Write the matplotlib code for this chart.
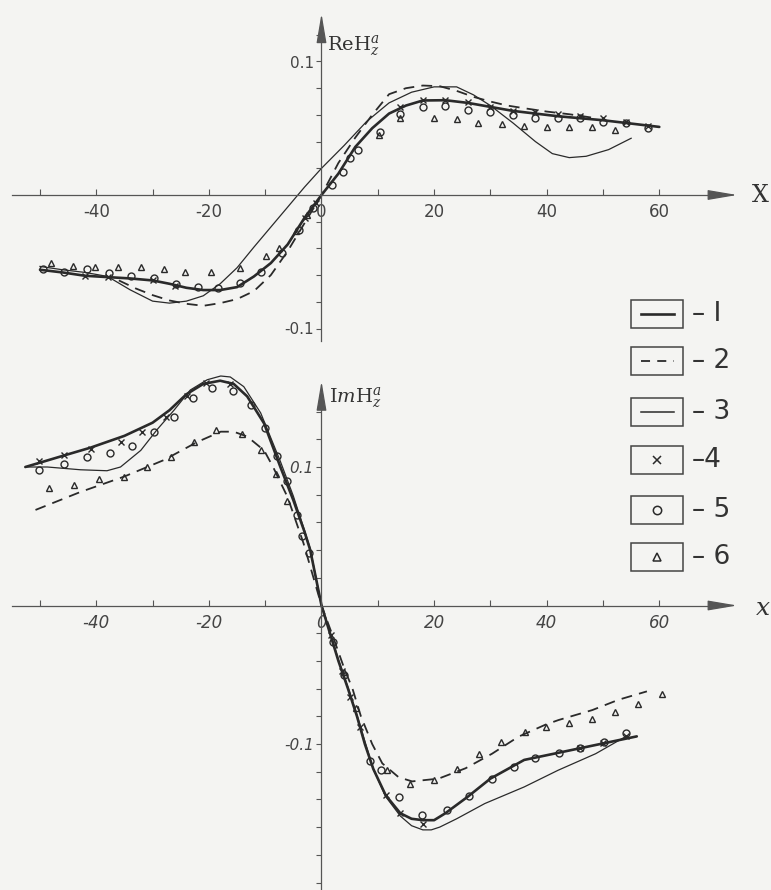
import matplotlib
matplotlib.use("Agg")
import matplotlib.pyplot as plt
from matplotlib.patches import Rectangle

plt.rcParams['font.family'] = ['Liberation Sans Narrow', 'DejaVu Sans']
plt.rcParams['mathtext.fontset'] = 'dejavuserif'

# ---------------- data: upper panel (Re H_z) ----------------
re1_x = [-50, -46, -42, -38, -34, -30, -27, -24, -21, -18, -15, -12, -9, -6, -3, 0,
         3, 6, 9, 12, 15, 18, 22, 26, 30, 34, 38, 42, 46, 50, 54, 60]
re1_y = [-0.056, -0.058, -0.0605, -0.0615, -0.0625, -0.064, -0.0665, -0.0695, -0.0712,
         -0.0712, -0.069, -0.061, -0.051, -0.037, -0.017, 0.0, 0.016, 0.036, 0.050,
         0.061, 0.067, 0.0708, 0.071, 0.069, 0.066, 0.063, 0.061, 0.059, 0.0575, 0.056,
         0.054, 0.051]

re2_x = [-36, -33, -30, -27, -24, -21, -18, -15, -12, -9, -6, -3, 0, 3, 6, 9, 12, 15,
         18, 21, 24, 27, 30, 33, 36, 40, 44, 48]
re2_y = [-0.064, -0.070, -0.075, -0.079, -0.0815, -0.083, -0.081, -0.078, -0.072, -0.060,
         -0.042, -0.021, 0.0, 0.024, 0.043, 0.060, 0.0755, 0.080, 0.082, 0.0815, 0.078,
         0.0735, 0.070, 0.067, 0.065, 0.0625, 0.0605, 0.058]

re3_x = [-50, -46, -42, -38, -34, -30, -27, -24, -21, -18, -15, -12, -9, -6, -3, 0, 4, 8,
         12, 16, 20, 24, 27, 30, 34, 38, 41, 44, 47, 51, 55]
re3_y = [-0.0535, -0.056, -0.058, -0.061, -0.071, -0.0795, -0.081, -0.0795, -0.0755,
         -0.0665, -0.0545, -0.039, -0.024, -0.009, 0.006, 0.020, 0.037, 0.055, 0.069,
         0.077, 0.081, 0.081, 0.075, 0.067, 0.054, 0.040, 0.031, 0.028, 0.029, 0.034,
         0.0425]

re4_x = [-42, -38, -30, -26, -3, -1, 14, 18, 22, 26, 30, 34, 38, 42, 46, 50, 54, 58]
re4_y = [-0.0605, -0.0615, -0.064, -0.068, -0.017, -0.006, 0.066, 0.071, 0.071, 0.0695,
         0.066, 0.063, 0.0625, 0.061, 0.059, 0.058, 0.055, 0.052]

re5_x = [-49.5, -45.7, -41.6, -37.7, -33.8, -29.8, -25.8, -21.9, -18.3, -14.4, -10.8,
         -7.1, -4, -1.5, 1.8, 3.9, 5, 6.5, 10.4, 14, 18, 22, 26, 30, 34, 38, 42, 46,
         50, 54, 58]
re5_y = [-0.0557, -0.0575, -0.0557, -0.0587, -0.0607, -0.0625, -0.0667, -0.0687, -0.070,
         -0.0657, -0.0575, -0.0437, -0.026, -0.010, 0.0075, 0.0175, 0.0275, 0.034,
         0.0475, 0.061, 0.066, 0.067, 0.064, 0.062, 0.060, 0.058, 0.058, 0.0575, 0.055,
         0.054, 0.050]

re6_x = [-48, -44.2, -40.2, -36.1, -32, -28, -24.3, -19.6, -14.5, -9.8, -7.5, -4.5, -2.5,
         10.2, 14, 20, 24, 27.8, 32, 36, 40, 44, 48, 52.2]
re6_y = [-0.051, -0.053, -0.0537, -0.0537, -0.054, -0.0557, -0.0575, -0.058, -0.055,
         -0.0457, -0.040, -0.027, -0.015, 0.045, 0.0575, 0.058, 0.057, 0.054, 0.053,
         0.052, 0.051, 0.051, 0.051, 0.049]

# ---------------- data: lower panel (Im H_z) ----------------
im1_x = [-52.6, -46, -41, -35, -30, -27, -24, -21, -18, -15.6, -13.2, -10.2, -7.3, -5,
         -3, -2, 0, 1.5, 3, 4.7, 6.3, 7.7, 9.2, 11.4, 14, 16, 18, 20, 22, 26, 30, 36,
         46, 56]
im1_y = [0.100, 0.108, 0.114, 0.1225, 0.132, 0.141, 0.1525, 0.160, 0.1623, 0.160, 0.151,
         0.1315, 0.100, 0.076, 0.053, 0.040, 0.0, -0.020, -0.040, -0.060, -0.080, -0.100,
         -0.118, -0.137, -0.150, -0.154, -0.155, -0.155, -0.150, -0.138, -0.125, -0.1115,
         -0.103, -0.0945]

im2_x = [-50.8, -42.8, -35.1, -28, -22.1, -17.9, -15.6, -13.2, -10.2, -8.6, -6, -3.2,
         0, 2, 4, 5.5, 7, 9, 10.8, 13.7, 16.1, 20.8, 25.6, 30.3, 35, 39.8, 42.1, 48.1,
         52.8, 57.8]
im2_y = [0.069, 0.082, 0.093, 0.105, 0.118, 0.1255, 0.1255, 0.122, 0.112, 0.100, 0.078,
         0.045, 0.0, -0.022, -0.045, -0.060, -0.080, -0.100, -0.114, -0.124, -0.127,
         -0.125, -0.1175, -0.107, -0.0947, -0.086, -0.0827, -0.0755, -0.068, -0.062]

im3_x = [-52.6, -48.7, -42.8, -38.1, -35.7, -32.1, -29.2, -26.2, -23.3, -20.3, -17.9,
         -16.2, -13.8, -10.8, -7.3, -5, -3, -2, 0, 1.5, 3, 4.7, 6.3, 7.7, 9.2, 11.4, 14,
         16, 18, 19.5, 21, 24, 29, 36, 42, 48.7, 54]
im3_y = [0.100, 0.100, 0.098, 0.0973, 0.100, 0.112, 0.127, 0.141, 0.1556, 0.163, 0.1657,
         0.165, 0.158, 0.139, 0.104, 0.079, 0.054, 0.041, 0.0, -0.019, -0.039, -0.059,
         -0.079, -0.098, -0.118, -0.138, -0.152, -0.159, -0.162, -0.162, -0.160, -0.154,
         -0.143, -0.131, -0.119, -0.107, -0.0947]

im4_x = [-50.2, -45.8, -41, -35.7, -31.9, -27.7, -23.9, -20.5, -16.2, 1.6, 3.6, 5.1,
         6.9, 11.4, 14, 18, 46, 50, 54]
im4_y = [0.104, 0.109, 0.113, 0.118, 0.1255, 0.136, 0.151, 0.161, 0.160, -0.021, -0.047,
         -0.066, -0.088, -0.137, -0.150, -0.158, -0.103, -0.099, -0.094]

im5_x = [-50.2, -45.8, -41.6, -37.5, -33.6, -29.8, -26.2, -22.8, -19.4, -15.7, -12.6,
         -10, -7.9, -6.2, -4.4, -3.5, -2.2, 2, 4, 8.7, 10.5, 13.7, 17.9, 22.3, 26.2,
         30.2, 34.2, 38, 42.2, 46, 50.1, 54.1]
im5_y = [0.098, 0.102, 0.107, 0.110, 0.115, 0.125, 0.136, 0.150, 0.157, 0.155, 0.145,
         0.128, 0.108, 0.090, 0.065, 0.050, 0.038, -0.026, -0.050, -0.112, -0.119,
         -0.138, -0.151, -0.148, -0.1375, -0.125, -0.1165, -0.110, -0.1066, -0.103,
         -0.0985, -0.092]

im6_x = [-48.4, -44, -39.6, -35.1, -31, -26.8, -22.7, -18.8, -14.1, -10.8, -8.1, -6.1,
         4, 6.2, 11.6, 15.8, 19.9, 24.1, 27.9, 31.9, 36.1, 39.8, 43.9, 48, 52.1, 56.2,
         60.5]
im6_y = [0.0846, 0.087, 0.091, 0.093, 0.100, 0.107, 0.118, 0.1267, 0.124, 0.112, 0.095,
         0.0756, -0.048, -0.074, -0.119, -0.129, -0.126, -0.118, -0.107, -0.0983, -0.091,
         -0.0875, -0.085, -0.082, -0.0767, -0.071, -0.064]

legend_labels = ['– I', '– 2', '– 3', '–4', '– 5', '– 6']

# ---------------- style ----------------
BG = '#f4f4f2'
INK = '#2a2a2a'
AXC = '#555555'
X0, XS = 321.5, 5.63          # pixel of x=0 and pixels per x unit
W, H = 771, 890

fig = plt.figure(figsize=(W / 100, H / 100), dpi=100)
fig.patch.set_facecolor(BG)


def px2x(p):
    return (p - X0) / XS


def make_axes(top_px, bot_px, zero_px, scale, ybounds, italic):
    ax = fig.add_axes([0, 1 - bot_px / H, 1, (bot_px - top_px) / H])
    ax.set_facecolor('none')
    ax.set_xlim(px2x(0), px2x(W))
    ax.set_ylim((zero_px - bot_px) / scale, (zero_px - top_px) / scale)
    for s in ['top', 'right']:
        ax.spines[s].set_visible(False)
    ax.spines['left'].set_position(('data', 0))
    ax.spines['bottom'].set_position(('data', 0))
    ax.spines['bottom'].set_bounds(px2x(12), px2x(725))
    ax.spines['left'].set_bounds(ybounds[0], ybounds[1] - 0.012)
    for s in ['left', 'bottom']:
        ax.spines[s].set_color(AXC)
        ax.spines[s].set_linewidth(0.9)
    ax.set_xticks([-40, -20, 0, 20, 40, 60])
    ax.set_xticklabels(['-40', '-20', '0', '20', '40', '60'])
    ax.set_xticks([-50, -30, -10, 10, 30, 50], minor=True)
    ax.set_yticks([-0.1, 0.1])
    ax.set_yticklabels(['-0.1', '0.1'])
    ax.set_yticks([v / 100 for v in range(-20, 17, 2) if abs(v) != 10 and v != 0
                   and ybounds[0] <= v / 100 <= ybounds[1] - 0.015], minor=True)
    ax.tick_params(axis='x', which='both', direction='in', length=4, width=0.8,
                   color=AXC, labelsize=12, labelcolor='#444', pad=6)
    ax.tick_params(axis='y', which='both', direction='out', length=3.5, width=0.8,
                   color=AXC, labelsize=11, labelcolor='#444', pad=2)
    if italic:
        for t in ax.get_xticklabels() + ax.get_yticklabels():
            t.set_style('italic')
    # arrow heads
    ax.annotate('', xy=(px2x(740), 0), xytext=(px2x(715), 0),
                arrowprops=dict(arrowstyle='-|>,head_length=1.3,head_width=0.22',
                                mutation_scale=14, lw=0.9, color=AXC))
    ax.annotate('', xy=(0, ybounds[1]), xytext=(0, ybounds[1] - 0.02),
                arrowprops=dict(arrowstyle='-|>,head_length=1.3,head_width=0.22',
                                mutation_scale=14, lw=0.9, color=AXC))
    return ax


def draw(ax, c1, c2, c3, m4, m5, m6):
    ax.plot(*c1, color=INK, lw=1.9, solid_capstyle='round')
    ax.plot(*c2, color=INK, lw=1.3, dashes=(6, 4))
    ax.plot(*c3, color=INK, lw=0.9)
    ax.plot(*m4, ls='none', marker='x', ms=5, mew=1.0, color=INK)
    ax.plot(*m5, ls='none', marker='o', ms=5, mew=1.0, mfc='none', mec=INK)
    ax.plot(*m6, ls='none', marker='^', ms=5, mew=1.0, mfc='none', mec=INK)


ax1 = make_axes(0, 350, 195, 1335, (-0.109, 0.138), False)
draw(ax1, (re1_x, re1_y), (re2_x, re2_y), (re3_x, re3_y),
     (re4_x, re4_y), (re5_x, re5_y), (re6_x, re6_y))
ax1.text(px2x(752), 0, 'X', fontsize=17, family='DejaVu Serif', color='#333',
         va='center', ha='left')
ax1.text(px2x(327), 0.112, r'$\mathrm{ReH}_{z}^{a}$', fontsize=14, color='#333',
         va='center', ha='left')

ax2 = make_axes(360, 890, 605.5, 1385, (-0.2054, 0.164), True)
draw(ax2, (im1_x, im1_y), (im2_x, im2_y), (im3_x, im3_y),
     (im4_x, im4_y), (im5_x, im5_y), (im6_x, im6_y))
ax2.text(px2x(756), -0.002, 'x', fontsize=18, family='DejaVu Serif', style='italic',
         color='#333', va='center', ha='left')
ax2.text(px2x(329), 0.150, r'$\mathrm{I}m\mathrm{H}_{z}^{a}$', fontsize=14, color='#333',
         va='center', ha='left')

# ---------------- legend (boxes drawn in pixel space) ----------------
lg = fig.add_axes([0, 0, 1, 1])
lg.set_xlim(0, W)
lg.set_ylim(H, 0)
lg.axis('off')
row_y = [314, 361, 412, 460, 510, 557]
for i, (yc, lab) in enumerate(zip(row_y, legend_labels)):
    lg.add_patch(Rectangle((631, yc - 14), 52, 28, fill=False, ec='#444', lw=1.1))
    if i == 0:
        lg.plot([641, 674], [yc, yc], color=INK, lw=1.9)
    elif i == 1:
        lg.plot([641, 674], [yc, yc], color=INK, lw=1.3, dashes=(5, 4))
    elif i == 2:
        lg.plot([641, 674], [yc, yc], color=INK, lw=1.1)
    else:
        mk = {3: 'x', 4: 'o', 5: '^'}[i]
        lg.plot([657], [yc], ls='none', marker=mk, ms=6, mew=1.1, mfc='none', mec=INK,
                color=INK)
    lg.text(692, yc, lab, fontsize=19, color='#333', va='center', ha='left')

fig.savefig('out.png', dpi=100, facecolor=BG)
